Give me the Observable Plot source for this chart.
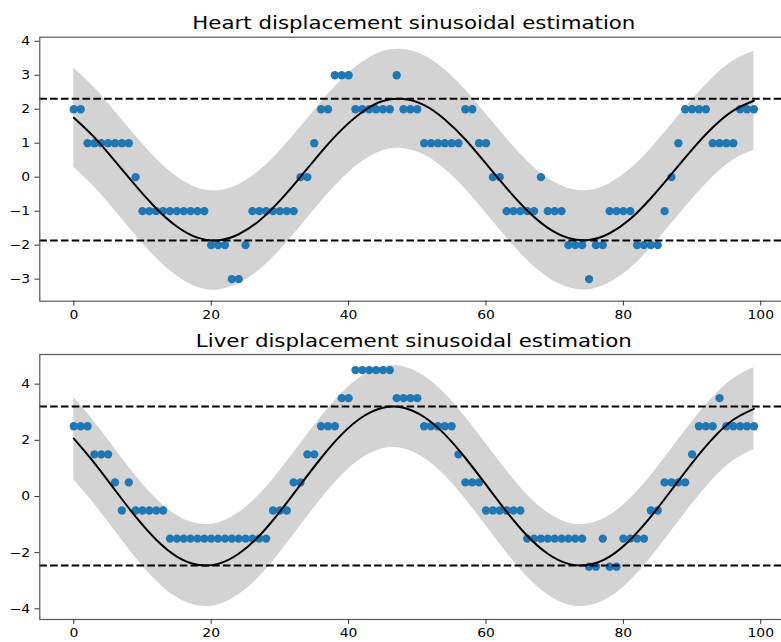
<!DOCTYPE html>
<html><head><meta charset="utf-8">
<script src="https://cdn.jsdelivr.net/npm/d3@7"></script>
<script src="https://cdn.jsdelivr.net/npm/@observablehq/plot@0.6"></script>
<style>
body{margin:0;background:#fff;}
#fig{position:relative;width:781px;height:642px;overflow:hidden;background:#fff;font-family:"DejaVu Sans",sans-serif;}
#fig svg{position:absolute;left:0;}
</style>
</head><body><div id="fig"></div>
<script>
// ---- data ----
const heartTitle = "Heart displacement sinusoidal estimation";
const liverTitle = "Liver displacement sinusoidal estimation";

const heartValues = [
  2,2,1,1,1,1,1,1,1,0,
  -1,-1,-1,-1,-1,-1,-1,-1,-1,-1,
  -2,-2,-2,-3,-3,-2,-1,-1,-1,-1,
  -1,-1,-1,0,0,1,2,2,3,3,
  3,2,2,2,2,2,2,3,2,2,
  2,1,1,1,1,1,1,2,2,1,
  1,0,0,-1,-1,-1,-1,-1,0,-1,
  -1,-1,-2,-2,-2,-3,-2,-2,-1,-1,
  -1,-1,-2,-2,-2,-2,-1,0,1,2,
  2,2,2,1,1,1,1,2,2,2
];
const liverValues = [
  2.5,2.5,2.5,1.5,1.5,1.5,0.5,-0.5,0.5,-0.5,
  -0.5,-0.5,-0.5,-0.5,-1.5,-1.5,-1.5,-1.5,-1.5,-1.5,
  -1.5,-1.5,-1.5,-1.5,-1.5,-1.5,-1.5,-1.5,-1.5,-0.5,
  -0.5,-0.5,0.5,0.5,1.5,1.5,2.5,2.5,2.5,3.5,
  3.5,4.5,4.5,4.5,4.5,4.5,4.5,3.5,3.5,3.5,
  3.5,2.5,2.5,2.5,2.5,2.5,1.5,0.5,0.5,0.5,
  -0.5,-0.5,-0.5,-0.5,-0.5,-0.5,-1.5,-1.5,-1.5,-1.5,
  -1.5,-1.5,-1.5,-1.5,-1.5,-2.5,-2.5,-1.5,-2.5,-2.5,
  -1.5,-1.5,-1.5,-1.5,-0.5,-0.5,0.5,0.5,0.5,0.5,
  1.5,2.5,2.5,2.5,3.5,2.5,2.5,2.5,2.5,2.5
];

// fitted sinusoid, read at these x positions
const fitX = [0,3,6,9,12,15,18,21,24,27,30,33,36,39,42,45,48,51,54,57,60,63,66,69,72,75,78,81,84,87,90,93,96,99];
const heartFit = [1.75,1.17,0.47,-0.25,-0.92,-1.45,-1.78,-1.86,-1.68,-1.28,-0.69,0.01,0.74,1.40,1.92,2.24,2.30,2.12,1.70,1.11,0.40,-0.32,-0.98,-1.49,-1.79,-1.85,-1.65,-1.23,-0.62,0.09,0.81,1.46,1.96,2.25];
const liverFit = [2.06,1.19,0.23,-0.72,-1.54,-2.14,-2.43,-2.40,-2.04,-1.40,-0.54,0.42,1.37,2.21,2.83,3.16,3.16,2.83,2.21,1.37,0.42,-0.54,-1.40,-2.04,-2.40,-2.43,-2.14,-1.54,-0.72,0.23,1.19,2.06,2.73,3.12];

// half-width of the shaded band
const heartBand = 1.46;
const liverBand = 1.46;

// dashed lines at the fit's max and min
const heartLevels = [2.31, -1.86];
const liverLevels = [3.20, -2.46];

const xTicks = [0,20,40,60,80,100];
const heartYTicks = [-3,-2,-1,0,1,2,3,4];
const liverYTicks = [-4,-2,0,2,4];

// ---- drawing ----
function chart({title, values, fitY, band, levels, yDomain, yTicks, top, height, frameTop, frameBottom}) {
  const pts = values.map((v, i) => ({x: i, y: v}));
  const fit = fitX.map((x, i) => ({x, y: fitY[i], lo: fitY[i] - band, hi: fitY[i] + band}));
  const svg = Plot.plot({
    width: 781,
    height,
    marginLeft: 39.3,
    marginRight: -6.4,
    marginTop: frameTop,
    marginBottom: height - frameBottom,
    x: {domain: [-4.95, 103.95], label: null},
    y: {domain: yDomain, label: null},
    style: {fontFamily: "DejaVu Sans", fontSize: "12px", color: "#000", background: "transparent", overflow: "visible"},
    marks: [
      Plot.areaY(fit, {x: "x", y1: "lo", y2: "hi", fill: "#d3d3d3", curve: "natural"}),
      Plot.dot(pts, {x: "x", y: "y", r: 4.15, fill: "#1f77b4", stroke: "none"}),
      Plot.line(fit, {x: "x", y: "y", stroke: "#000", strokeWidth: 2, curve: "natural"}),
      Plot.ruleY(levels, {stroke: "#000", strokeWidth: 2, strokeDasharray: "7.6,3.2"}),
      Plot.frame({stroke: "#555", strokeWidth: 1.2}),
      Plot.axisX({ticks: xTicks, tickSize: 4.9, tickPadding: 4.5, fontSize: 12, stroke: "#333", label: null}),
      Plot.axisY({ticks: yTicks, tickSize: 4.9, tickPadding: 4.9, fontSize: 12, stroke: "#333", label: null}),
      Plot.text([title], {frameAnchor: "top", lineAnchor: "bottom", dy: -8, fontSize: 18, fill: "#000", className: "ttl"})
    ]
  });
  svg.style.top = top + "px";
  svg.querySelectorAll("text").forEach(t => {
    const tr = t.getAttribute("transform") || "";
    const isTitle = t.textContent === title;
    t.setAttribute("transform", tr + (isTitle ? " scale(1.185,1)" : " scale(1.16,1)"));
  });
  return svg;
}

const fig = document.getElementById("fig");
fig.appendChild(chart({
  title: heartTitle, values: heartValues, fitY: heartFit, band: heartBand, levels: heartLevels,
  yDomain: [-3.65, 4.12], yTicks: heartYTicks, top: 0, height: 325, frameTop: 36.7, frameBottom: 300.7
}));
fig.appendChild(chart({
  title: liverTitle, values: liverValues, fitY: liverFit, band: liverBand, levels: liverLevels,
  yDomain: [-4.38, 5.055], yTicks: liverYTicks, top: 325, height: 317, frameTop: 29, frameBottom: 294
}));
</script>
</body></html>
